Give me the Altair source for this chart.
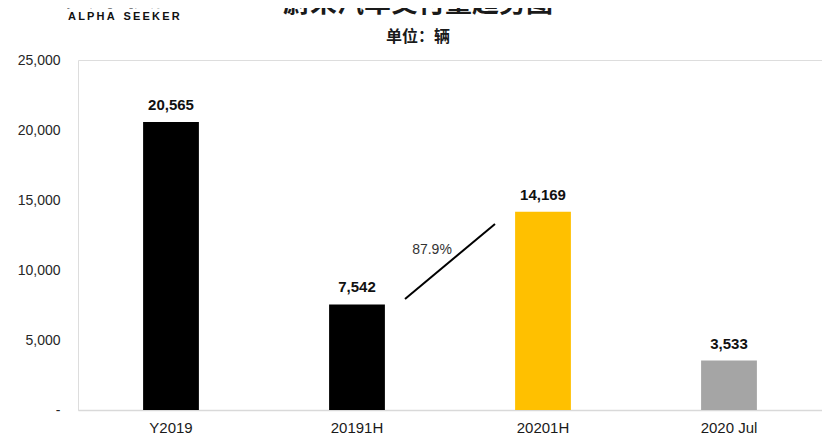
import altair as alt
import pandas as pd

categories = ["Y2019", "20191H", "20201H", "2020 Jul"]
deliveries = [20565, 7542, 14169, 3533]
bar_colors = ["#000000", "#000000", "#FFC000", "#A5A5A5"]

growth_label = "87.9%"
growth_from = "20191H"
growth_to = "20201H"
growth_y_start = 7930
growth_y_end = 13290
growth_label_y = 11430

title_text = "蔚来汽车交付量趋势图"
subtitle_text = "单位：辆"
logo_cn = "资本侦探"
logo_en = "\u2009".join(list("ALPHA")) + "\u2009\u2009\u2009\u2009" + "\u2009".join(list("SEEKER"))

df = pd.DataFrame({"cat": categories, "val": deliveries})

x_scale = alt.Scale(domain=categories, paddingInner=0.7, paddingOuter=0.35)
y_scale = alt.Scale(domain=[0, 25000])

xenc = alt.X("cat:N", scale=x_scale, sort=categories,
             axis=alt.Axis(title=None, labelAngle=0, ticks=False, labelFontSize=15,
                           labelFont="Liberation Sans", labelColor="#1a1a1a",
                           domainColor="#d9d9d9", domainWidth=1.5, labelPadding=10))
yenc = alt.Y("val:Q", scale=y_scale,
             axis=alt.Axis(title=None, grid=False, ticks=False, domain=False,
                           values=[0, 5000, 10000, 15000, 20000, 25000],
                           labelExpr="datum.value == 0 ? '-' : format(datum.value, ',')",
                           labelFontSize=14, labelFont="Liberation Sans",
                           labelColor="#262626", labelPadding=18))

bars = alt.Chart(df).mark_bar().encode(
    x=xenc, y=yenc,
    color=alt.Color("cat:N", scale=alt.Scale(domain=categories, range=bar_colors), legend=None),
)

labels = alt.Chart(df).mark_text(fontSize=15, fontWeight="bold", font="Liberation Sans",
                                 baseline="middle", dy=-17, color="#111111").encode(
    x=alt.X("cat:N", scale=x_scale, sort=categories),
    y=alt.Y("val:Q", scale=y_scale),
    text=alt.Text("val:Q", format=","),
)

line_df = pd.DataFrame({"a": [growth_from], "b": [growth_to],
                        "y1": [growth_y_start], "y2": [growth_y_end]})
growth_line = alt.Chart(line_df).mark_rule(color="#000000", strokeWidth=2,
                                           xOffset=48, x2Offset=-48).encode(
    x=alt.X("a:N", scale=x_scale, sort=categories),
    x2="b:N",
    y=alt.Y("y1:Q", scale=y_scale),
    y2="y2:Q",
)

gl_df = pd.DataFrame({"a": [growth_from], "y": [growth_label_y], "t": [growth_label]})
growth_text = alt.Chart(gl_df).mark_text(fontSize=14, font="Liberation Sans", color="#333333",
                                         baseline="middle", dx=75).encode(
    x=alt.X("a:N", scale=x_scale, sort=categories),
    y=alt.Y("y:Q", scale=y_scale),
    text="t:N",
)

title = alt.Chart(pd.DataFrame({"t": [title_text]})).mark_text(
    fontSize=27, fontWeight="bold", font="Noto Sans CJK SC", color="#1a1a1a",
    baseline="alphabetic", align="center").encode(
    x=alt.value(340), y=alt.value(-48), text="t:N")

subtitle = alt.Chart(pd.DataFrame({"t": [subtitle_text]})).mark_text(
    fontSize=16, fontWeight="bold", font="Noto Sans CJK SC", color="#1a1a1a",
    baseline="middle", align="center").encode(
    x=alt.value(340), y=alt.value(-23), text="t:N")

logo1 = alt.Chart(pd.DataFrame({"t": [logo_cn]})).mark_text(
    fontSize=30, fontWeight="bold", font="Noto Sans CJK SC", color="#111111",
    baseline="alphabetic", align="left").encode(
    x=alt.value(-13), y=alt.value(-55), text="t:N")

logo2 = alt.Chart(pd.DataFrame({"t": [logo_en]})).mark_text(
    fontSize=11, fontWeight="bold", font="Liberation Sans", color="#111111",
    baseline="middle", align="left").encode(
    x=alt.value(-10), y=alt.value(-43), text="t:N")

chart = alt.layer(bars, labels, growth_line, growth_text, title, subtitle, logo1, logo2).properties(
    width=744, height=350,
    autosize=alt.AutoSizeParams(type="none"),
    padding={"left": 70, "top": 52, "right": 0, "bottom": 28},
).configure_view(stroke=None).configure(background="white")

chart.save("out.html", embed_options={"renderer": "svg", "actions": False})
